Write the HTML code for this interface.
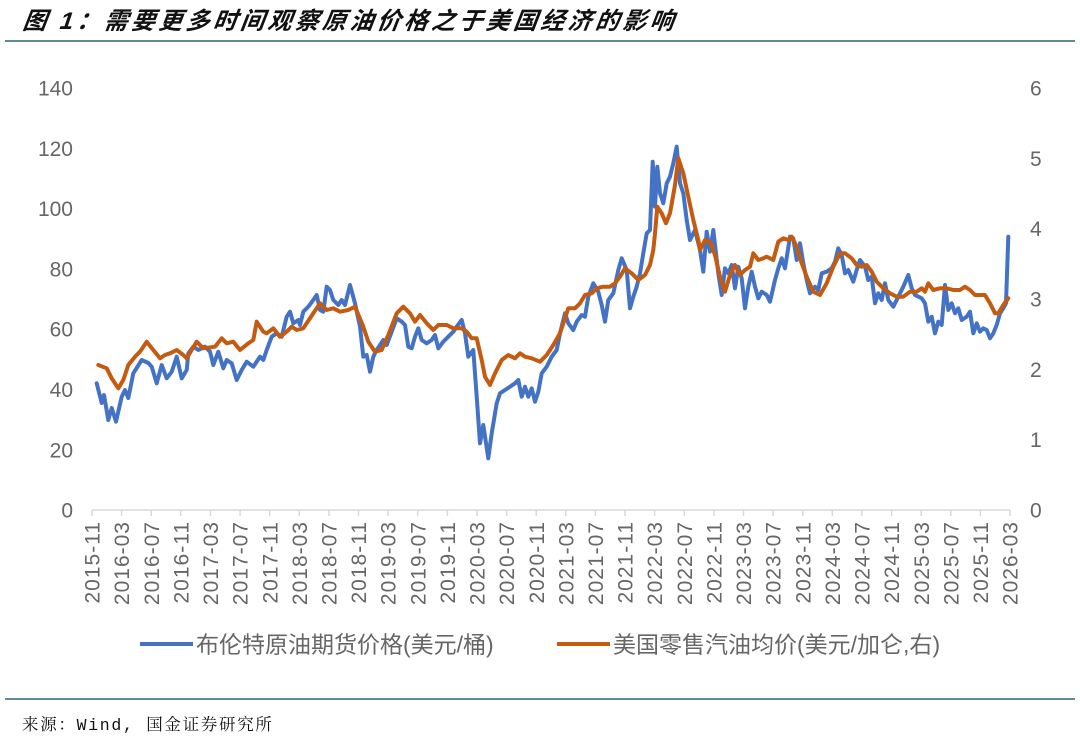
<!DOCTYPE html>
<html>
<head>
<meta charset="utf-8">
<style>
html,body{margin:0;padding:0;background:#fff;}
svg{display:block;}
</style>
</head>
<body>
<svg width="1080" height="740" viewBox="0 0 1080 740" xmlns="http://www.w3.org/2000/svg">
<rect width="1080" height="740" fill="#fff"/>
<!-- Title -->
<text x="22" y="29" font-family="'Liberation Sans','Noto Sans CJK SC',sans-serif" font-size="24" font-weight="bold" font-style="italic" letter-spacing="3.3" fill="#111" transform="skewX(-8) translate(4,0)">图 1：需要更多时间观察原油价格之于美国经济的影响</text>
<line x1="5" y1="41" x2="1075" y2="41" stroke="#5f8a99" stroke-width="2"/>

<!-- Left axis labels -->
<g font-family="'Liberation Sans',sans-serif" font-size="21" fill="#666" text-anchor="end">
<text x="73" y="95.5">140</text>
<text x="73" y="155.8">120</text>
<text x="73" y="216.1">100</text>
<text x="73" y="276.4">80</text>
<text x="73" y="336.7">60</text>
<text x="73" y="397">40</text>
<text x="73" y="457.3">20</text>
<text x="73" y="517.5">0</text>
</g>
<!-- Right axis labels -->
<g font-family="'Liberation Sans',sans-serif" font-size="21" fill="#666" text-anchor="start">
<text x="1030" y="95.5">6</text>
<text x="1030" y="165.8">5</text>
<text x="1030" y="236.2">4</text>
<text x="1030" y="306.5">3</text>
<text x="1030" y="376.8">2</text>
<text x="1030" y="447.2">1</text>
<text x="1030" y="517.5">0</text>
</g>

<!-- X axis -->
<line x1="92" y1="510" x2="1010" y2="510" stroke="#d9d9d9" stroke-width="1.5"/>
<g stroke="#d9d9d9" stroke-width="1.5">
<line x1="92" y1="510" x2="92" y2="516"/><line x1="121.6" y1="510" x2="121.6" y2="516"/><line x1="151.2" y1="510" x2="151.2" y2="516"/><line x1="180.8" y1="510" x2="180.8" y2="516"/><line x1="210.5" y1="510" x2="210.5" y2="516"/><line x1="240.1" y1="510" x2="240.1" y2="516"/><line x1="269.7" y1="510" x2="269.7" y2="516"/><line x1="299.3" y1="510" x2="299.3" y2="516"/><line x1="328.9" y1="510" x2="328.9" y2="516"/><line x1="358.5" y1="510" x2="358.5" y2="516"/><line x1="388.1" y1="510" x2="388.1" y2="516"/><line x1="417.7" y1="510" x2="417.7" y2="516"/><line x1="447.4" y1="510" x2="447.4" y2="516"/><line x1="477" y1="510" x2="477" y2="516"/><line x1="506.6" y1="510" x2="506.6" y2="516"/><line x1="536.2" y1="510" x2="536.2" y2="516"/><line x1="565.8" y1="510" x2="565.8" y2="516"/><line x1="595.4" y1="510" x2="595.4" y2="516"/><line x1="625" y1="510" x2="625" y2="516"/><line x1="654.6" y1="510" x2="654.6" y2="516"/><line x1="684.3" y1="510" x2="684.3" y2="516"/><line x1="713.9" y1="510" x2="713.9" y2="516"/><line x1="743.5" y1="510" x2="743.5" y2="516"/><line x1="773.1" y1="510" x2="773.1" y2="516"/><line x1="802.7" y1="510" x2="802.7" y2="516"/><line x1="832.3" y1="510" x2="832.3" y2="516"/><line x1="861.9" y1="510" x2="861.9" y2="516"/><line x1="891.6" y1="510" x2="891.6" y2="516"/><line x1="921.2" y1="510" x2="921.2" y2="516"/><line x1="950.8" y1="510" x2="950.8" y2="516"/><line x1="980.4" y1="510" x2="980.4" y2="516"/><line x1="1010" y1="510" x2="1010" y2="516"/>
</g>
<g font-family="'Liberation Sans',sans-serif" font-size="21" fill="#666" text-anchor="end" letter-spacing="1">
<text transform="translate(92,521) rotate(-90)" dy="0.36em">2015-11</text>
<text transform="translate(121.6,521) rotate(-90)" dy="0.36em">2016-03</text>
<text transform="translate(151.2,521) rotate(-90)" dy="0.36em">2016-07</text>
<text transform="translate(180.8,521) rotate(-90)" dy="0.36em">2016-11</text>
<text transform="translate(210.5,521) rotate(-90)" dy="0.36em">2017-03</text>
<text transform="translate(240.1,521) rotate(-90)" dy="0.36em">2017-07</text>
<text transform="translate(269.7,521) rotate(-90)" dy="0.36em">2017-11</text>
<text transform="translate(299.3,521) rotate(-90)" dy="0.36em">2018-03</text>
<text transform="translate(328.9,521) rotate(-90)" dy="0.36em">2018-07</text>
<text transform="translate(358.5,521) rotate(-90)" dy="0.36em">2018-11</text>
<text transform="translate(388.1,521) rotate(-90)" dy="0.36em">2019-03</text>
<text transform="translate(417.7,521) rotate(-90)" dy="0.36em">2019-07</text>
<text transform="translate(447.4,521) rotate(-90)" dy="0.36em">2019-11</text>
<text transform="translate(477,521) rotate(-90)" dy="0.36em">2020-03</text>
<text transform="translate(506.6,521) rotate(-90)" dy="0.36em">2020-07</text>
<text transform="translate(536.2,521) rotate(-90)" dy="0.36em">2020-11</text>
<text transform="translate(565.8,521) rotate(-90)" dy="0.36em">2021-03</text>
<text transform="translate(595.4,521) rotate(-90)" dy="0.36em">2021-07</text>
<text transform="translate(625,521) rotate(-90)" dy="0.36em">2021-11</text>
<text transform="translate(654.6,521) rotate(-90)" dy="0.36em">2022-03</text>
<text transform="translate(684.3,521) rotate(-90)" dy="0.36em">2022-07</text>
<text transform="translate(713.9,521) rotate(-90)" dy="0.36em">2022-11</text>
<text transform="translate(743.5,521) rotate(-90)" dy="0.36em">2023-03</text>
<text transform="translate(773.1,521) rotate(-90)" dy="0.36em">2023-07</text>
<text transform="translate(802.7,521) rotate(-90)" dy="0.36em">2023-11</text>
<text transform="translate(832.3,521) rotate(-90)" dy="0.36em">2024-03</text>
<text transform="translate(861.9,521) rotate(-90)" dy="0.36em">2024-07</text>
<text transform="translate(891.6,521) rotate(-90)" dy="0.36em">2024-11</text>
<text transform="translate(921.2,521) rotate(-90)" dy="0.36em">2025-03</text>
<text transform="translate(950.8,521) rotate(-90)" dy="0.36em">2025-07</text>
<text transform="translate(980.4,521) rotate(-90)" dy="0.36em">2025-11</text>
<text transform="translate(1010,521) rotate(-90)" dy="0.36em">2026-03</text>
</g>

<!-- Brent series (blue) -->
<polyline fill="none" stroke="#4472C4" stroke-width="4" stroke-linejoin="round" stroke-linecap="round" points="96.7,383.3 101.7,403 104,395 108.3,420 111.7,408 116,421.7 121.7,396.7 125,390 128.3,398 133.3,373.3 141.7,360 148.3,363 151.7,366.7 156.7,383.3 161.7,365 166.7,378.3 171.7,371.7 176.7,356.7 181.7,378.3 186.7,370 188.3,353.3 193.3,346.7 198.3,350 205,346.7 210,351.7 213.3,365 218.3,351.7 223.3,368.3 226.7,360 231.7,363.3 236.7,380 241.7,370 246.7,361.7 253.3,366.7 260,356.7 263.3,360 266.7,350 271.7,336.7 276.7,333.3 281.7,336.7 286.7,316.7 290,311.7 293.3,323.3 298.3,320 300,325 303.3,311.7 308.3,306.7 313.3,300 316.7,295 320,310 323.3,311.7 326.7,286.7 330,290 333.3,300 338.3,305 341.7,300 345,305 350,285 355,303.3 360,326.7 363.3,356.7 366.7,355 370,371.7 373.3,356.7 376.7,350 383.3,340 386.7,345 391.7,331.7 396.7,318.3 401.7,321.7 405,325 408.3,346.7 411.7,348.3 415,336.7 418.3,328.3 421.7,340 426.7,343.3 431.7,340 435,335 438.3,348.3 443.3,341.7 448.3,336.7 453.3,331.7 456.7,326.7 461.7,320 465,333.3 468.3,356.7 473.3,350 476.7,396.7 480,443.3 483.3,425 488.3,458.3 491.7,433.3 496.7,403.3 500,393.3 505,390 510,386.7 515,383.3 518.3,380 521.7,396.7 525,386.7 528.3,396.7 531.7,388.3 535,401.7 538.3,391.7 541.7,373.3 546.7,366.7 551.7,356.7 556.7,350 560,333.3 565,313.3 568.3,323.3 573.3,330 576.7,321.7 581.7,315 585,316.7 588.3,296.7 593.3,283.3 598.3,291.7 601.7,305 605,321.7 608.3,300 613.3,293.3 618.3,270 621.7,258.3 626.7,270 630,308.3 633.3,296.7 636.7,286.7 640,273.3 643.3,253.3 646.7,233.3 650,230 652.7,161.7 655,206.7 657.3,166.7 660,193.3 663.3,203.3 666.7,183.3 670,176.7 673.3,163.3 676.7,146.7 680,183.3 683.3,193.3 686.7,220 690,240 695,230 700,250 703.3,271.7 706.7,231.7 710,251.7 713.3,230 718.3,273.3 721.7,295 725,268.3 728.3,273.3 731.7,265 735,288.3 738.3,266.7 741.7,278.3 745,308.3 748.3,286.7 751.7,271.7 755,286.7 758.3,298.3 761.7,291.7 766.7,295 770,301.7 775,280 778.3,268.3 781.7,258.3 785,268.3 790,236.7 793.3,238.3 796.7,260 800,243.3 803.3,263.3 806.7,280 810,293.3 815,286.7 818.3,290 821.7,273.3 826.7,271.7 831.7,268.3 835,261.7 838.3,248.3 841.7,255 845,273.3 848.3,270 853.3,281.7 856.7,270 860,260 865,266.7 868.3,280 871.7,276.7 875,303.3 878.3,293.3 881.7,300 885,283.3 888.3,300 893.3,306.7 898.3,296.7 903.3,286.7 908.3,275 911.7,288.3 915,295 921.7,298.3 925,303.3 928.3,321.7 931.7,316.7 935,333.3 938.3,321.7 941.7,325 945,285 948.3,310 951.7,303.3 955,313.3 958.3,308.3 961.7,320 966.7,316.7 970,311.7 973.3,333.3 976.7,323.3 980,331.7 983.3,328.3 986.7,330 990,338.3 993.3,333.3 996.7,325 1000,313.3 1003.3,308.3 1006,303.3 1008.3,236.7"/>

<!-- Gasoline series (orange) -->
<polyline fill="none" stroke="#C55A11" stroke-width="4" stroke-linejoin="round" stroke-linecap="round" points="98.3,365 106.7,368.3 111.7,378.3 118.3,388.3 123.3,380 128.3,365 135,356.7 140,351.7 146.7,341.7 153.3,350 160,358.3 165,355 170,353.3 176.7,350 183.3,355 186.7,358.3 191.7,350 196.7,341.7 203.3,348.3 215,346.7 221.7,338.3 226.7,343.3 233.3,341.7 240,350 248.3,343.3 253.3,340 256.7,321.7 263.3,331.7 266.7,333.3 273.3,328.3 280,336.7 286.7,331.7 291.7,326.7 296.7,330 303.3,328.3 310,318.3 320,303.3 326.7,310 333.3,308.3 340,311.7 348.3,310 355,306.7 363.3,326.7 368.3,341.7 375,351.7 381.7,350 388.3,335 396.7,313.3 403.3,306.7 410,313.3 415,321.7 420,315 426.7,323.3 433.3,330 438.3,325 446.7,325 453.3,328.3 461.7,328.3 466.7,331.7 471.7,338.3 476.7,338.3 481.7,360 485,376.7 490,385 495,373.3 501.7,360 508.3,355 515,358.3 520,353.3 525,356.7 531.7,358.3 540,361.7 546.7,355 553.3,345 560,333.3 565,318.3 568.3,308.3 575,308.3 580,303.3 585,295 591.7,293.3 596.7,288.3 603.3,286.7 610,286.7 615,283.3 620,276.7 625,268.3 631.7,273.3 638.3,280 645,275 650,265 653.3,250 655,233.3 657.3,206.7 661.7,213.3 666,223.3 670,213.3 675,185 678.3,158.3 683.3,173.3 688.3,196.7 693.3,220 698.3,240 700,250 705,240 710,241.7 715,255 720,276.7 725,291.7 730,275 735,265 740,275 745,270 750,266.7 753.3,253.3 758.3,260 763.3,258.3 766.7,256.7 773.3,260 778.3,241.7 783.3,238.3 788.3,240 791.7,236.7 796.7,246.7 801.7,263.3 806.7,276.7 813.3,291.7 820,295 826.7,283.3 833.3,266.7 840,253.3 845,253.3 851.7,258.3 856.7,265 861.7,266.7 866.7,265 871.7,271.7 876.7,281.7 883.3,288.3 890,293.3 896.7,296.7 903.3,296.7 910,291.7 916.7,291.7 921.7,288.3 925,291.7 928.3,283.3 933.3,290 940,288.3 946.7,288.3 953.3,290 960,290 965,286.7 970,290 975,295 980,295 985,295 990,303.3 995,313.3 998.3,313.3 1003.3,305 1008.3,298.3"/>

<!-- Legend -->
<line x1="140" y1="644" x2="193" y2="644" stroke="#4472C4" stroke-width="4"/>
<text x="196" y="652.5" font-family="'Liberation Sans','Noto Sans CJK SC',sans-serif" font-size="23" fill="#666">布伦特原油期货价格(美元/桶)</text>
<line x1="557" y1="644" x2="610" y2="644" stroke="#C55A11" stroke-width="4"/>
<text x="613" y="652.5" font-family="'Liberation Sans','Noto Sans CJK SC',sans-serif" font-size="23" fill="#666">美国零售汽油均价(美元/加仑,右)</text>

<!-- Footer -->
<line x1="5" y1="699" x2="1075" y2="699" stroke="#5f8a99" stroke-width="2"/>
<text x="22" y="730" font-family="'Liberation Mono','Noto Serif CJK SC',monospace" font-size="16.5" letter-spacing="1.7" fill="#111">来源：Wind, 国金证券研究所</text>
</svg>
</body>
</html>
